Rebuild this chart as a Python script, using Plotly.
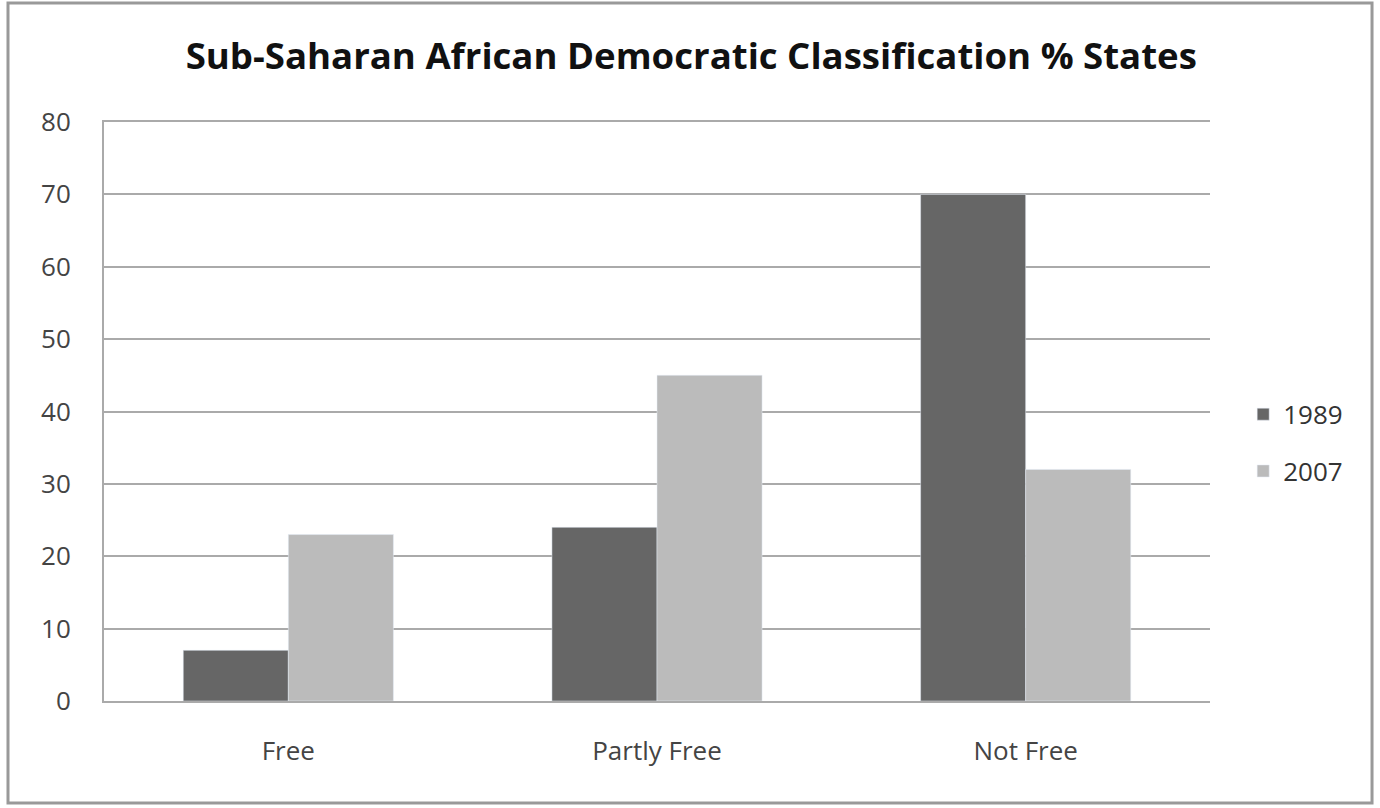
import plotly.graph_objects as go

categories = ["Free", "Partly Free", "Not Free"]
pct_1989 = [7, 24, 70]
pct_2007 = [23, 45, 32]

fig = go.Figure()
fig.add_trace(go.Bar(name="1989", x=categories, y=pct_1989, marker_color="#666666", legendgroup="a"))
fig.add_trace(go.Bar(name="2007", x=categories, y=pct_2007, marker_color="#bbbbbb", legendgroup="b"))

fig.update_layout(
    width=1380, height=808,
    margin=dict(l=104, r=170, t=122, b=107),
    paper_bgcolor="white", plot_bgcolor="white",
    barmode="group", bargap=0.43, bargroupgap=0,
    font=dict(family="Open Sans, DejaVu Sans, sans-serif", color="#444444", size=26),
    title=dict(
        text="<b>Sub-Saharan African Democratic Classification % States</b>",
        x=0.531, xanchor="center", xref="paper",
        y=0.93, yanchor="middle",
        font=dict(size=36.6, color="#111111"),
    ),
    legend=dict(
        x=1.03, xanchor="left", y=0.446, yanchor="middle",
        font=dict(size=26, color="#333333"), tracegroupgap=20,
    ),
    shapes=[dict(
        type="rect", xref="paper", yref="paper",
        x0=-0.0868, x1=1.1465, y0=-0.176, y1=1.2055,
        line=dict(color="#999999", width=3), fillcolor="rgba(0,0,0,0)", layer="below",
    )],
)
fig.update_yaxes(
    range=[0, 80], dtick=10, showgrid=True, gridcolor="#aaaaaa", gridwidth=2,
    showline=True, linecolor="#aaaaaa", linewidth=2, zeroline=False,
    ticks="", ticklabelstandoff=26, tickfont=dict(size=26),
)
fig.update_xaxes(
    showline=True, mirror=True, linecolor="#aaaaaa", linewidth=2, ticks="",
    ticklabelstandoff=26, tickfont=dict(size=26),
)

fig.write_html("out.html")
